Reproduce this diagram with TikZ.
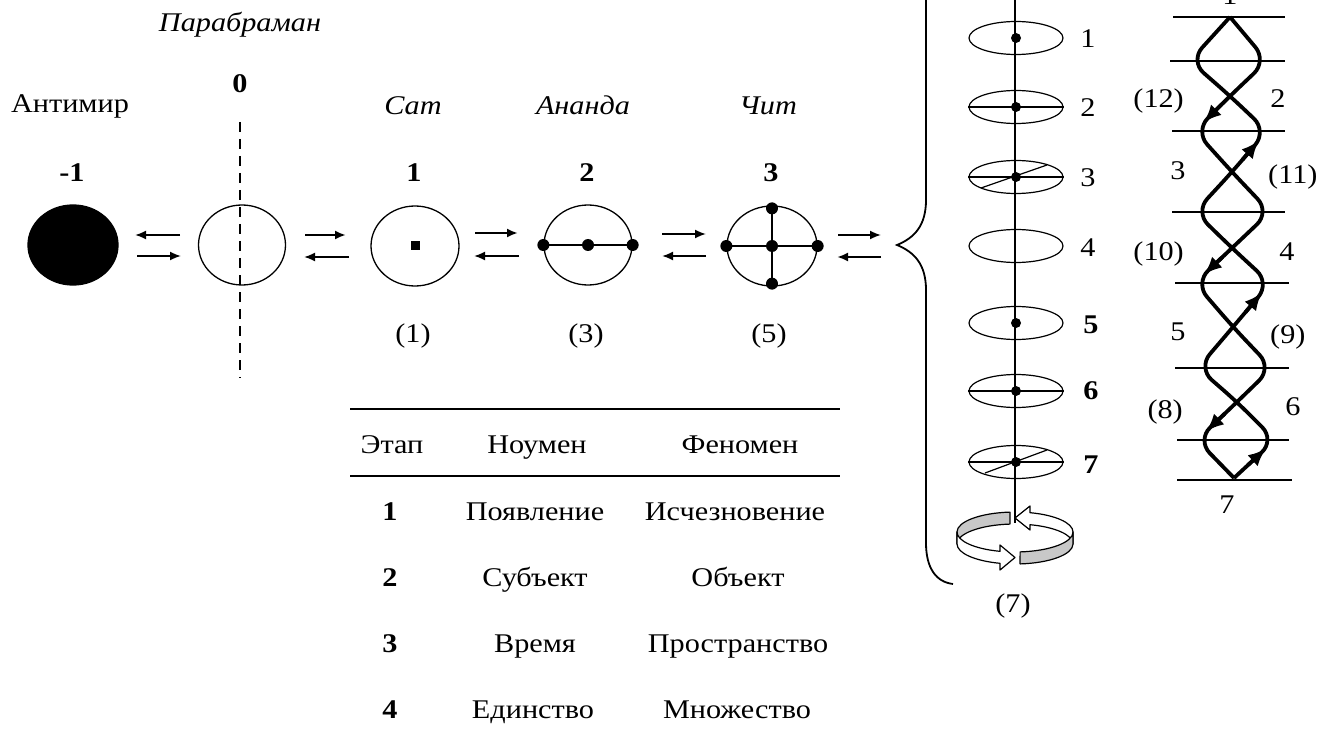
\documentclass[tikz,border=0pt]{standalone}
\usepackage{fontspec}
\setmainfont{Liberation Serif}[FakeStretch=1.12]
\usetikzlibrary{arrows.meta,shapes.geometric}
\definecolor{ringgray}{RGB}{200,200,200}
\begin{document}
\begin{tikzpicture}[x=1pt,y=-1pt,
  lbl/.style={inner sep=0pt, anchor=base, font=\fontsize{27}{30}\selectfont},
  ilbl/.style={lbl, font=\fontsize{27}{30}\selectfont\itshape},
  blbl/.style={lbl, font=\fontsize{27}{30}\selectfont\bfseries},
  circ/.style={ellipse, draw, line width=1.3pt, minimum width=88pt, minimum height=80pt, inner sep=0pt},
  dot/.style={circle, fill, inner sep=0pt, minimum size=12pt},
  sdot/.style={circle, fill, inner sep=0pt, minimum size=10pt},
  smell/.style={ellipse, draw, line width=1.2pt, minimum width=94pt, minimum height=33pt, inner sep=0pt},
  rarr/.style={line width=1.8pt, -{Latex[length=11pt,width=9pt]}},
  rule/.style={line width=1.4pt},
  hline/.style={line width=1.8pt},
  strand/.style={line width=3.8pt, rounded corners=18pt, line join=round},
  sarr/.style={line width=3.8pt, -{Latex[length=18pt,width=15pt]}},
  ring/.style={line width=1.2pt, line join=round}
]
\useasboundingbox (0,0) rectangle (1327,735);
\fill[white] (0,0) rectangle (1327,735);

% ---------- left labels ----------
\node[ilbl] (para) at (240,32) {Парабраман};
\node[lbl]  (anti) at (70,113) {Антимир};
\node[blbl] (n0) at (240,93) {0};
\node[blbl] (nm1) at (72,182) {-1};
\node[ilbl] (sat) at (413,115) {Сат};
\node[ilbl] (ananda) at (583,115) {Ананда};
\node[ilbl] (chit) at (768,115) {Чит};
\node[blbl] (n1) at (414,182) {1};
\node[blbl] (n2) at (587,182) {2};
\node[blbl] (n3) at (771,182) {3};
\node[lbl] (p1) at (413,342) {(1)};
\node[lbl] (p3) at (586,342) {(3)};
\node[lbl] (p5) at (769,342) {(5)};

% ---------- circles ----------
\node[circ, fill=black, minimum width=90pt] (cm1) at (73,245) {};
\draw[line width=1.8pt, dash pattern=on 10pt off 7pt] (240,122) -- (240,378);
\node[circ, minimum width=87pt] (c0) at (242,245) {};
\node[circ] (c1) at (415,246) {};
\node[fill, inner sep=0pt, minimum size=9pt] (d1) at (415,246) {};
\node[circ] (c2) at (588,245) {};
\draw[line width=1.6pt] (c2.west) -- (c2.east);
\node[dot] at (c2.west) {};
\node[dot] at (c2.center) {};
\node[dot] at (c2.east) {};
\node[circ, minimum width=90pt] (c3) at (772,246) {};
\draw[line width=1.6pt] (c3.west) -- (c3.east);
\draw[line width=1.6pt] ([yshift=-3pt]c3.north) -- ([yshift=3pt]c3.south);
\node[dot] at (c3.west) {};
\node[dot] at (c3.east) {};
\node[dot] at (c3.center) {};
\node[dot] at ([yshift=-3pt]c3.north) {};
\node[dot] at ([yshift=3pt]c3.south) {};

% ---------- reversible arrows ----------
\coordinate (a1s) at (180,235); \coordinate (a1e) at (135,235);
\coordinate (a2s) at (137,256); \coordinate (a2e) at (181,256);
\draw[rarr] (a1s) -- (a1e); \draw[rarr] (a2s) -- (a2e);
\coordinate (b1s) at (305,235); \coordinate (b1e) at (346,235);
\coordinate (b2s) at (349,257); \coordinate (b2e) at (304,257);
\draw[rarr, line width=2.6pt] (b1s) -- (b1e); \draw[rarr] (b2s) -- (b2e);
\coordinate (c1s) at (475,233); \coordinate (c1e) at (518,233);
\coordinate (c2s) at (519,256); \coordinate (c2e) at (474,256);
\draw[rarr, line width=2.6pt] (c1s) -- (c1e); \draw[rarr] (c2s) -- (c2e);
\coordinate (d1s) at (662,234); \coordinate (d1e) at (706,234);
\coordinate (d2s) at (706,256); \coordinate (d2e) at (662,256);
\draw[rarr] (d1s) -- (d1e); \draw[rarr] (d2s) -- (d2e);
\coordinate (e1s) at (838,235); \coordinate (e1e) at (881,235);
\coordinate (e2s) at (881,257); \coordinate (e2e) at (837,257);
\draw[rarr] (e1s) -- (e1e); \draw[rarr, line width=2.6pt] (e2s) -- (e2e);

% ---------- brace ----------
\draw[line width=1.8pt] (926,-5) -- (926,200)
  .. controls (926,226) and (914,238) .. (897,245)
  .. controls (914,252) and (926,264) .. (926,290)
  -- (926,543) .. controls (926,568) and (936,582) .. (953,584);

% ---------- column of ellipses ----------
\draw[line width=1.8pt] (1015,-5) -- (1015,523);
\node[smell] (e1) at (1016,38) {};
\node[sdot] at (e1.center) {};
\node[smell] (e2) at (1016,107) {};
\draw[line width=1.2pt] (e2.west) -- (e2.east);
\node[sdot] at (e2.center) {};
\node[smell] (e3) at (1016,177) {};
\draw[line width=1.2pt] (e3.west) -- (e3.east);
\draw[line width=1.2pt] (981,188) -- (1047,165);
\node[sdot] at (e3.center) {};
\node[smell] (e4) at (1016,246) {};
\node[smell] (e5) at (1016,323) {};
\node[sdot] at (e5.center) {};
\node[smell] (e6) at (1016,391) {};
\draw[line width=1.2pt] (e6.west) -- (e6.east);
\node[sdot] at (e6.center) {};
\node[smell] (e7) at (1016,462) {};
\draw[line width=1.2pt] (e7.west) -- (e7.east);
\draw[line width=1.2pt] (985,473) -- (1047,450);
\node[sdot] at (e7.center) {};
\node[lbl] (l1) at (1088,48) {1};
\node[lbl] (l2) at (1088,117) {2};
\node[lbl] (l3) at (1088,187) {3};
\node[lbl] (l4) at (1088,257) {4};
\node[blbl] (l5) at (1091,333) {5};
\node[blbl] (l6) at (1091,399) {6};
\node[blbl] (l7) at (1091,473) {7};

% ---------- rotation ring ----------
\draw[ring, fill=ringgray] (1009.9,512.1) arc[start angle=-95, end angle=-180, x radius=58, y radius=20]
  -- ++(0,12) arc[start angle=180, end angle=265, x radius=58, y radius=20] -- cycle;
\draw[ring, fill=white] (1073,532) arc[start angle=360, end angle=285, x radius=58, y radius=20]
  -- (1030,506) -- (1015,518) -- (1030,530) -- (1030,524.7)
  arc[start angle=285, end angle=360, x radius=58, y radius=20] -- cycle;
\draw[ring, fill=white] (957,532) arc[start angle=180, end angle=105, x radius=58, y radius=20]
  -- (1000,545) -- (1015,557.5) -- (1000,570) -- (1000,563.3)
  arc[start angle=105, end angle=180, x radius=58, y radius=20] -- cycle;
\draw[ring, fill=ringgray] (1020.1,551.9) arc[start angle=85, end angle=0, x radius=58, y radius=20]
  -- (1073,544) arc[start angle=0, end angle=85, x radius=58, y radius=20] -- cycle;
\node[lbl] (p7) at (1013,612) {(7)};

% ---------- helix ----------
\foreach \ya/\xa/\xb in {17/1173/1285, 61/1170/1285, 131/1172/1285, 212/1172/1285,
                         283/1175/1289, 368/1175/1289, 440/1177/1289, 480/1177/1292}
  \draw[hline] (\xa,\ya) -- (\xb,\ya);
\draw[strand] (1230,17) -- (1190,61) -- (1230,96) -- (1267,131) -- (1232,172) -- (1195,212)
  -- (1232,248) -- (1270,283) -- (1233,327) -- (1198,368) -- (1237,402) -- (1275,440) -- (1234,478);
\draw[strand] (1230,17) -- (1267,61) -- (1230,96) -- (1195,131) -- (1232,172) -- (1270,212)
  -- (1232,248) -- (1195,283) -- (1233,327) -- (1272,368) -- (1237,402) -- (1197,440) -- (1234,478);
\coordinate (h12s) at (1221.9,104.1); \coordinate (h12e) at (1203.5,122.5);
\coordinate (h11s) at (1242.3,159.9); \coordinate (h11e) at (1259,140.5);
\coordinate (h10s) at (1222.6,256.9); \coordinate (h10e) at (1204,274.5);
\coordinate (h9s) at (1245.6,312.1);  \coordinate (h9e) at (1262,292.5);
\coordinate (h8s) at (1224.5,413.9);  \coordinate (h8e) at (1206,431.5);
\coordinate (h7s) at (1247.1,465.8);  \coordinate (h7e) at (1266,448.5);
\draw[sarr] (h12s) -- (h12e);
\draw[sarr] (h11s) -- (h11e);
\draw[sarr] (h10s) -- (h10e);
\draw[sarr] (h9s) -- (h9e);
\draw[sarr] (h8s) -- (h8e);
\draw[sarr] (h7s) -- (h7e);
\node[lbl] (t1) at (1230,5) {1};
\node[lbl, anchor=base east] (t12) at (1184,108) {(12)};
\node[lbl] (t2) at (1278,108) {2};
\node[lbl] (t3) at (1178,180) {3};
\node[lbl, anchor=base west] (t11) at (1268,184) {(11)};
\node[lbl, anchor=base east] (t10) at (1184,261) {(10)};
\node[lbl] (t4) at (1287,261) {4};
\node[lbl] (t5) at (1178,340) {5};
\node[lbl, anchor=base west] (t9) at (1270,343) {(9)};
\node[lbl, anchor=base east] (t8) at (1183,418) {(8)};
\node[lbl] (t6) at (1293,415) {6};
\node[lbl] (t7) at (1227,513) {7};

% ---------- table ----------
\draw[rule] (350,409) -- (840,409);
\draw[rule] (350,476) -- (840,476);
\node[lbl] (th1) at (392,453) {Этап};
\node[lbl] (th2) at (537,453) {Ноумен};
\node[lbl] (th3) at (740,453) {Феномен};
\node[blbl] (r1a) at (390,520) {1};
\node[lbl] (r1b) at (535,520) {Появление};
\node[lbl] (r1c) at (735,520) {Исчезновение};
\node[blbl] (r2a) at (390,586) {2};
\node[lbl] (r2b) at (535,586) {Субъект};
\node[lbl] (r2c) at (738,586) {Объект};
\node[blbl] (r3a) at (390,652) {3};
\node[lbl] (r3b) at (535,652) {Время};
\node[lbl] (r3c) at (738,652) {Пространство};
\node[blbl] (r4a) at (390,718) {4};
\node[lbl] (r4b) at (533,718) {Единство};
\node[lbl] (r4c) at (737,718) {Множество};
\end{tikzpicture}
\end{document}
